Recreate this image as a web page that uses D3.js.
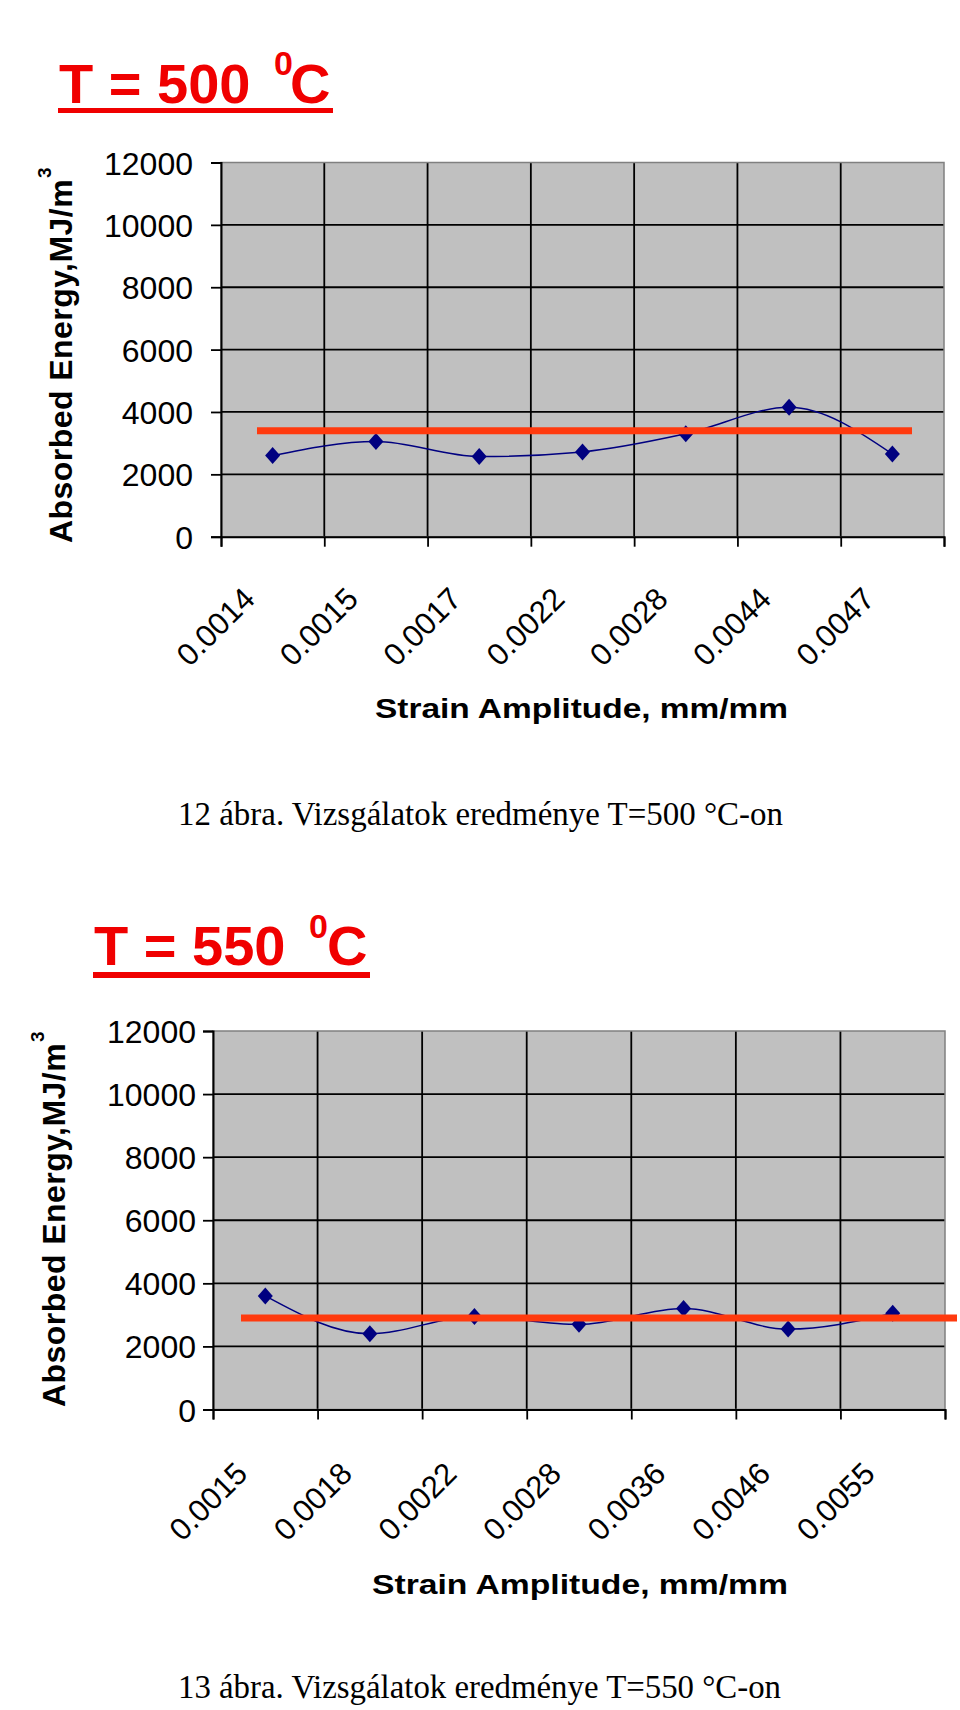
<!DOCTYPE html>
<html>
<head>
<meta charset="utf-8">
<script src="https://cdn.jsdelivr.net/npm/d3@7"></script>
<style>
  html, body { margin: 0; padding: 0; background: #ffffff; }
  svg { display: block; }
</style>
</head>
<body>
<script>
// ---------------- DATA ----------------
const strain500 = ["0.0014", "0.0015", "0.0017", "0.0022", "0.0028", "0.0044", "0.0047"];
const energy500 = [2600, 3050, 2570, 2720, 3300, 4150, 2650];
const mean500 = 3400;

const strain550 = ["0.0015", "0.0018", "0.0022", "0.0028", "0.0036", "0.0046", "0.0055"];
const energy550 = [3600, 2400, 2950, 2700, 3200, 2550, 3050];
const mean550 = 2900;

const yTicks = [0, 2000, 4000, 6000, 8000, 10000, 12000];
const yDomain = [0, 12000];

const titleTemps = ["500", "550"];
const captions = [
  "12 ábra. Vizsgálatok eredménye T=500 °C-on",
  "13 ábra. Vizsgálatok eredménye T=550 °C-on"
];
const yTitle = "Absorbed Energy,MJ/m";
const xTitle = "Strain Amplitude, mm/mm";

// ---------------- LAYOUT ----------------
const W = 960, H = 1710;
const SANS = "'Liberation Sans', Arial, sans-serif";
const SERIF = "'Liberation Serif', 'Times New Roman', serif";
const RED = "#f00000";
const MEAN_RED = "#ff3a0e";
const NAVY = "#000080";

const svg = d3.select("body").append("svg")
  .attr("width", W).attr("height", H)
  .attr("viewBox", `0 0 ${W} ${H}`);

const charts = [
  {
    cats: strain500, vals: energy500, mean: mean500, temp: titleTemps[0], caption: captions[0],
    left: 221, right: 944, top: 162.5, bottom: 536.7,
    title: { x: 59, base: 103, supX: 274, supBase: 75, cX: 290, ulX: 58, ulW: 275, ulY: 108, ulH: 5 },
    yLabPad: 18, yTitleX: 72, yTitleY: 543,
    xLabDy: 64, xTitle: { x: 375, w: 413, base: 718 },
    meanX: [257, 912],
    cap: { x: 178, w: 605, base: 825 }
  },
  {
    cats: strain550, vals: energy550, mean: mean550, temp: titleTemps[1], caption: captions[1],
    left: 213, right: 945, top: 1031, bottom: 1409.5,
    title: { x: 94, base: 965, supX: 309, supBase: 938, cX: 327, ulX: 93, ulW: 277, ulY: 972, ulH: 6 },
    yLabPad: 7, yTitleX: 65, yTitleY: 1407,
    xLabDy: 66, xTitle: { x: 372, w: 416, base: 1594 },
    meanX: [241, 957],
    cap: { x: 178, w: 603, base: 1698 }
  }
];

charts.forEach(c => {
  const g = svg.append("g");

  // ----- Title -----
  const t = g.append("text")
    .attr("font-family", SANS).attr("font-weight", "bold")
    .attr("font-size", 56).attr("fill", RED);
  t.append("tspan").attr("x", c.title.x).attr("y", c.title.base).text(`T = ${c.temp} `);
  t.append("tspan").attr("x", c.title.supX).attr("y", c.title.supBase)
    .attr("font-size", 34).text("0");
  t.append("tspan").attr("x", c.title.cX).attr("y", c.title.base).text("C");
  g.append("rect")
    .attr("x", c.title.ulX).attr("y", c.title.ulY)
    .attr("width", c.title.ulW).attr("height", c.title.ulH)
    .attr("fill", RED);

  // ----- Scales -----
  const x = d3.scaleBand().domain(c.cats).range([c.left, c.right]).padding(0);
  const xb = d3.scaleLinear().domain([0, c.cats.length]).range([c.left, c.right]);
  const y = d3.scaleLinear().domain(yDomain).range([c.bottom, c.top]);

  // ----- Plot area -----
  g.append("rect")
    .attr("x", c.left).attr("y", c.top)
    .attr("width", c.right - c.left).attr("height", c.bottom - c.top)
    .attr("fill", "#c0c0c0");

  // horizontal gridlines
  g.append("g").selectAll("line")
    .data(yTicks.filter(v => v > yDomain[0] && v < yDomain[1]))
    .join("line")
    .attr("x1", c.left).attr("x2", c.right)
    .attr("y1", d => y(d)).attr("y2", d => y(d))
    .attr("stroke", "#000").attr("stroke-width", 1.8);

  // vertical gridlines at category boundaries
  g.append("g").selectAll("line")
    .data(d3.range(1, c.cats.length))
    .join("line")
    .attr("x1", d => xb(d)).attr("x2", d => xb(d))
    .attr("y1", c.top).attr("y2", c.bottom)
    .attr("stroke", "#000").attr("stroke-width", 1.8);

  // plot border
  g.append("rect")
    .attr("x", c.left).attr("y", c.top)
    .attr("width", c.right - c.left).attr("height", c.bottom - c.top)
    .attr("fill", "none").attr("stroke", "#808080").attr("stroke-width", 1.5);

  // ----- Y axis -----
  const yAxis = g.append("g")
    .attr("transform", `translate(${c.left},0)`)
    .call(d3.axisLeft(y).tickValues(yTicks).tickSize(10).tickPadding(c.yLabPad)
      .tickFormat(d3.format("d")));
  yAxis.select(".domain").attr("stroke", "#000").attr("stroke-width", 2);
  yAxis.selectAll(".tick line").attr("stroke", "#000").attr("stroke-width", 1.8);
  yAxis.selectAll(".tick text")
    .attr("font-family", SANS).attr("font-size", 32).attr("fill", "#000")
    .attr("dy", "0.36em");

  // ----- X axis (ticks at category boundaries) -----
  const xAxis = g.append("g")
    .attr("transform", `translate(0,${c.bottom})`)
    .call(d3.axisBottom(xb).tickValues(d3.range(0, c.cats.length + 1))
      .tickSize(10).tickFormat(""));
  xAxis.select(".domain").attr("stroke", "#000").attr("stroke-width", 2);
  xAxis.selectAll(".tick line").attr("stroke", "#000").attr("stroke-width", 1.8);

  // rotated category labels
  g.append("g").selectAll("text")
    .data(c.cats)
    .join("text")
    .attr("transform", d => `translate(${x(d) + x.bandwidth() / 2 - 16},${c.bottom + c.xLabDy}) rotate(-45)`)
    .attr("text-anchor", "end")
    .attr("font-family", SANS).attr("font-size", 31).attr("fill", "#000")
    .text(d => d);

  // ----- Axis titles -----
  const yt = g.append("text")
    .attr("transform", `translate(${c.yTitleX},${c.yTitleY}) rotate(-90)`)
    .attr("font-family", SANS).attr("font-weight", "bold")
    .attr("font-size", 32).attr("letter-spacing", 0.45).attr("fill", "#000");
  yt.append("tspan").text(yTitle);
  yt.append("tspan").attr("dy", -21).attr("dx", 1).attr("font-size", 19).text("3");

  g.append("text")
    .attr("x", c.xTitle.x).attr("y", c.xTitle.base)
    .attr("font-family", SANS).attr("font-weight", "bold")
    .attr("font-size", 28).attr("fill", "#000")
    .attr("textLength", c.xTitle.w).attr("lengthAdjust", "spacingAndGlyphs")
    .text(xTitle);

  // ----- Data line + markers -----
  const pts = c.cats.map((d, i) => ({ cat: d, v: c.vals[i] }));
  const line = d3.line()
    .x(d => x(d.cat) + x.bandwidth() / 2)
    .y(d => y(d.v))
    .curve(d3.curveMonotoneX);
  g.append("path")
    .datum(pts)
    .attr("d", line)
    .attr("fill", "none").attr("stroke", NAVY).attr("stroke-width", 1.5);

  g.append("g").selectAll("path")
    .data(pts)
    .join("path")
    .attr("transform", d => `translate(${x(d.cat) + x.bandwidth() / 2},${y(d.v)})`)
    .attr("d", "M0,-8.5L7.5,0L0,8.5L-7.5,0Z")
    .attr("fill", NAVY);

  // ----- Mean line -----
  g.append("line")
    .attr("x1", c.meanX[0]).attr("x2", c.meanX[1])
    .attr("y1", y(c.mean)).attr("y2", y(c.mean))
    .attr("stroke", MEAN_RED).attr("stroke-width", 7);

  // ----- Caption -----
  g.append("text")
    .attr("x", c.cap.x).attr("y", c.cap.base)
    .attr("font-family", SERIF).attr("font-size", 33).attr("fill", "#000")
    .attr("textLength", c.cap.w).attr("lengthAdjust", "spacingAndGlyphs")
    .text(c.caption);
});
</script>
</body>
</html>
